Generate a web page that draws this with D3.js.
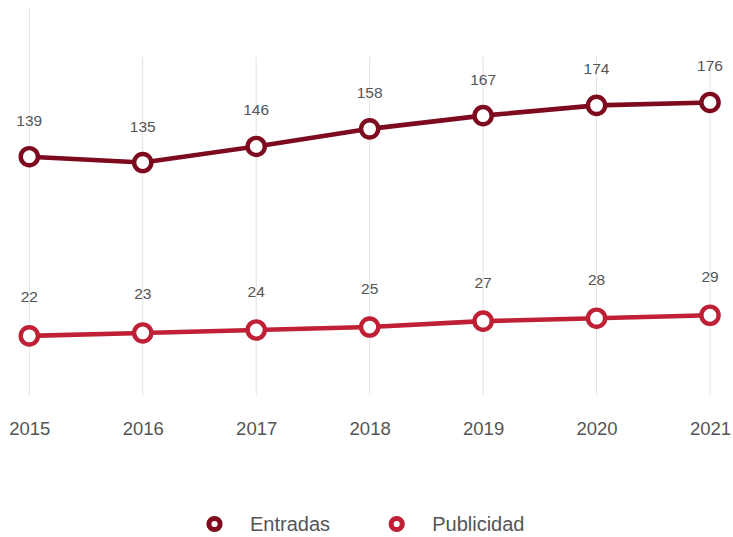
<!DOCTYPE html>
<html>
<head>
<meta charset="utf-8">
<script src="https://cdn.jsdelivr.net/npm/d3@7"></script>
<style>
  html, body { margin: 0; padding: 0; background: #fff; }
  svg { display: block; font-family: "Liberation Sans", Arial, Helvetica, sans-serif; }
</style>
</head>
<body>
<svg id="chart" width="733" height="537"></svg>
<script>
// Yearly figures for the two revenue streams
const years = ["2015", "2016", "2017", "2018", "2019", "2020", "2021"];
const entradas = [139, 135, 146, 158, 167, 174, 176];
const publicidad = [22, 23, 24, 25, 27, 28, 29];
const seriesNames = ["Entradas", "Publicidad"];
const seriesColors = ["#7d0a1e", "#bf2036"];

const svg = d3.select("#chart");

const x = d3.scalePoint().domain(years).range([29.3, 710]);

// Each series sits on its own vertical scale
const yEntradas = d3.scaleLinear().domain([130, 180]).range([169.9, 96.6]);
const yPublicidad = d3.scaleLinear().domain([20, 30]).range([341.8, 312.3]);

const series = [
  { name: seriesNames[0], values: entradas, y: yEntradas, color: seriesColors[0], labelOffset: 31 },
  { name: seriesNames[1], values: publicidad, y: yPublicidad, color: seriesColors[1], labelOffset: 33.5 }
];

// Vertical gridlines, one per year
svg.append("g").selectAll("line")
  .data(years)
  .join("line")
  .attr("x1", d => x(d)).attr("x2", d => x(d))
  .attr("y1", (d, i) => i === 0 ? 7 : 57)
  .attr("y2", 395)
  .attr("stroke", "#e2e2e2")
  .attr("stroke-width", 1);

// Year labels along the bottom
const xAxis = svg.append("g")
  .attr("transform", "translate(0,395)")
  .call(d3.axisBottom(x).tickSize(0).tickPadding(27));
xAxis.select(".domain").remove();
xAxis.selectAll("text")
  .attr("fill", "#555")
  .attr("font-size", "18.5px")
  .attr("font-family", "Liberation Sans, Arial, sans-serif");

// Lines, markers and value labels
series.forEach(s => {
  const pts = years.map((yr, i) => ({ yr, v: s.values[i] }));
  const line = d3.line().x(d => x(d.yr)).y(d => s.y(d.v));
  const g = svg.append("g");
  g.append("path")
    .datum(pts)
    .attr("d", line)
    .attr("fill", "none")
    .attr("stroke", s.color)
    .attr("stroke-width", 4.6)
    .attr("stroke-linejoin", "round");
  g.selectAll("circle")
    .data(pts)
    .join("circle")
    .attr("cx", d => x(d.yr))
    .attr("cy", d => s.y(d.v))
    .attr("r", 8.6)
    .attr("fill", "#fff")
    .attr("stroke", s.color)
    .attr("stroke-width", 4.4);
  g.selectAll("text")
    .data(pts)
    .join("text")
    .attr("x", d => x(d.yr))
    .attr("y", d => s.y(d.v) - s.labelOffset)
    .attr("text-anchor", "middle")
    .attr("fill", "#555")
    .attr("font-size", "15.5px")
    .text(d => d.v);
});

// Legend
const legendX = [214.5, 396.7];
const legend = svg.append("g").selectAll("g")
  .data(series)
  .join("g")
  .attr("transform", (d, i) => `translate(${legendX[i]},524)`);
legend.append("circle")
  .attr("r", 5.6)
  .attr("fill", "#fff")
  .attr("stroke", d => d.color)
  .attr("stroke-width", 5);
legend.append("text")
  .attr("x", 35.5)
  .attr("y", 7)
  .attr("fill", "#555")
  .attr("font-size", "20px")
  .text(d => d.name);
</script>
</body>
</html>
